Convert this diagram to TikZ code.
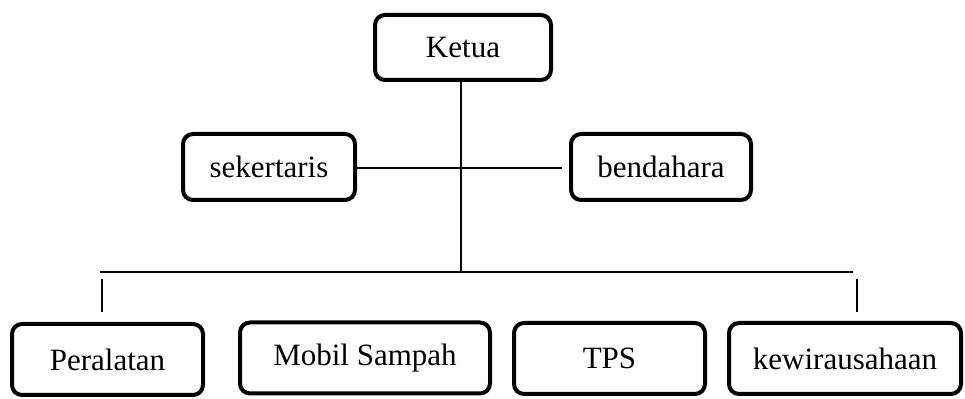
\documentclass[tikz,border=0pt]{standalone}
\usepackage{fontspec}
\setmainfont{Liberation Serif}
\begin{document}
\begin{tikzpicture}[x=0.5pt,y=-0.5pt,
  orgbox/.style={draw, rectangle, line width=2pt, rounded corners=5pt, inner sep=0pt,
    minimum height=33pt, font=\fontsize{15.5}{18}\selectfont},
  conn/.style={line width=1pt}]
\useasboundingbox (0,0) rectangle (965,399);
\node[orgbox, minimum width=88pt, minimum height=32.5pt] (ketua) at (463,47.5) {Ketua};
\node[orgbox, minimum width=86pt] (sek) at (269,167) {sekertaris};
\node[orgbox, minimum width=90pt] (ben) at (661,167) {bendahara};
\node[orgbox, minimum width=95.5pt, minimum height=35.5pt] (per) at (107.5,359.5) {Peralatan};
\node[orgbox, minimum width=125pt, minimum height=35.5pt] (mob) at (365,358) {Mobil Sampah};
\node[orgbox, minimum width=95.5pt, minimum height=35.5pt] (tps) at (609.5,358.5) {TPS};
\node[orgbox, minimum width=116pt, minimum height=35.5pt] (kew) at (845,358.5) {kewirausahaan};
\coordinate (junc) at (461,272);
\coordinate (hl) at (100,272);
\coordinate (hr) at (853,272);
\coordinate (bgap) at (562,168);
\coordinate (t1a) at (102,279);
\coordinate (t1b) at (102,312);
\coordinate (t2a) at (857,279);
\coordinate (t2b) at (857,312);
\draw[conn] (ketua.south -| junc) -- (junc);
\draw[conn] (sek.east |- bgap) -- (bgap);
\draw[conn] (hl) -- (hr);
\draw[conn] (t1a) -- (t1b);
\draw[conn] (t2a) -- (t2b);
\end{tikzpicture}
\end{document}
